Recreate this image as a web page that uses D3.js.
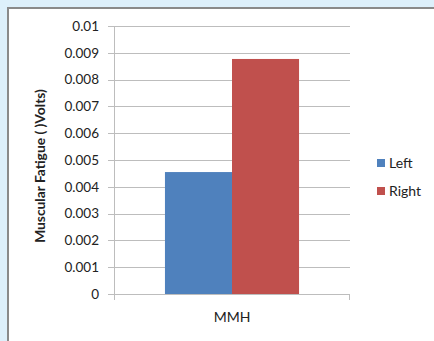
<!DOCTYPE html>
<html>
<head>
<meta charset="utf-8">
<script src="https://cdn.jsdelivr.net/npm/d3@7"></script>
<style>
  html, body { margin: 0; padding: 0; background: #ddf0fb; }
  svg { display: block; }
  text { font-family: Lato, "Open Sans", sans-serif; fill: #222; }
</style>
</head>
<body>
<svg id="chart" width="434" height="341"></svg>
<script>
// Chart data
const categories = ["MMH"];
const seriesNames = ["Left", "Right"];
const leftValues = [0.00455];
const rightValues = [0.00877];
const yTicks = [0, 0.001, 0.002, 0.003, 0.004, 0.005, 0.006, 0.007, 0.008, 0.009, 0.01];
const seriesColors = ["#4f81bd", "#c0504d"];
const yTitle = "Muscular Fatigue ( )Volts)";

const svg = d3.select("#chart");
const W = 434, H = 341;

// Chart panel
svg.append("rect")
  .attr("x", 8).attr("y", 8)
  .attr("width", W + 10).attr("height", H + 10)
  .attr("fill", "#fff")
  .attr("stroke", "#8a8a8a")
  .attr("stroke-width", 2);

const plot = { left: 114, right: 350, top: 26, bottom: 294 };

const y = d3.scaleLinear().domain([0, 0.01]).range([plot.bottom, plot.top]);
const x = d3.scaleBand().domain(categories).range([plot.left, plot.right]).paddingInner(0).paddingOuter(0.38);
const xs = d3.scaleBand().domain(seriesNames).range([0, x.bandwidth()]);

// Gridlines
svg.append("g")
  .selectAll("line")
  .data(yTicks)
  .join("line")
  .attr("x1", plot.left - 6).attr("x2", plot.right)
  .attr("y1", d => Math.round(y(d)) + 0.5).attr("y2", d => Math.round(y(d)) + 0.5)
  .attr("stroke", "#bdbdbd")
  .attr("stroke-width", 1);

// Y axis labels
const yAxis = d3.axisLeft(y).tickValues(yTicks).tickFormat(d => d === 0 ? "0" : String(+d.toFixed(3))).tickSize(0).tickPadding(15);
const gy = svg.append("g").attr("transform", `translate(${plot.left},0)`).call(yAxis);
gy.select(".domain").remove();
gy.selectAll("text").style("font-size", "13.5px").attr("fill", "#222").attr("font-family", "Lato, sans-serif");

// Bars
const rows = categories.map((c, i) => ({ cat: c, values: [leftValues[i], rightValues[i]] }));
const groups = svg.append("g").selectAll("g")
  .data(rows)
  .join("g")
  .attr("transform", d => `translate(${x(d.cat)},0)`);
groups.selectAll("rect")
  .data(d => d.values.map((v, j) => ({ name: seriesNames[j], v, color: seriesColors[j] })))
  .join("rect")
  .attr("x", d => xs(d.name))
  .attr("width", xs.bandwidth())
  .attr("y", d => y(d.v))
  .attr("height", d => y(0) - y(d.v))
  .attr("fill", d => d.color);

// Axis lines
svg.append("line")
  .attr("x1", plot.left + 0.5).attr("x2", plot.left + 0.5)
  .attr("y1", plot.top).attr("y2", plot.bottom + 6)
  .attr("stroke", "#bdbdbd");
const xAxis = d3.axisBottom(x).tickSize(0).tickPadding(18);
const gx = svg.append("g").attr("transform", `translate(0,${plot.bottom})`).call(xAxis);
gx.select(".domain").attr("stroke", "#bdbdbd").attr("d", `M${plot.left},0.5H${plot.right}M${plot.right - 0.5},0.5V6`);
gx.selectAll("text").style("font-size", "14px").attr("fill", "#222").attr("font-family", "Lato, sans-serif");

// Y axis title
svg.append("text")
  .attr("transform", `translate(45,${(plot.top + plot.bottom) / 2 + 6}) rotate(-90)`)
  .attr("text-anchor", "middle")
  .style("font-size", "13.8px")
  .style("font-weight", "bold")
  .text(yTitle);

// Legend
const legend = svg.append("g").attr("transform", "translate(377,159)");
const items = legend.selectAll("g")
  .data(seriesNames)
  .join("g")
  .attr("transform", (d, i) => `translate(0,${i * 28})`);
items.append("rect")
  .attr("width", 8).attr("height", 8)
  .attr("fill", (d, i) => seriesColors[i]);
items.append("text")
  .attr("x", 12).attr("y", 9)
  .style("font-size", "14px")
  .text(d => d);
</script>
</body>
</html>
